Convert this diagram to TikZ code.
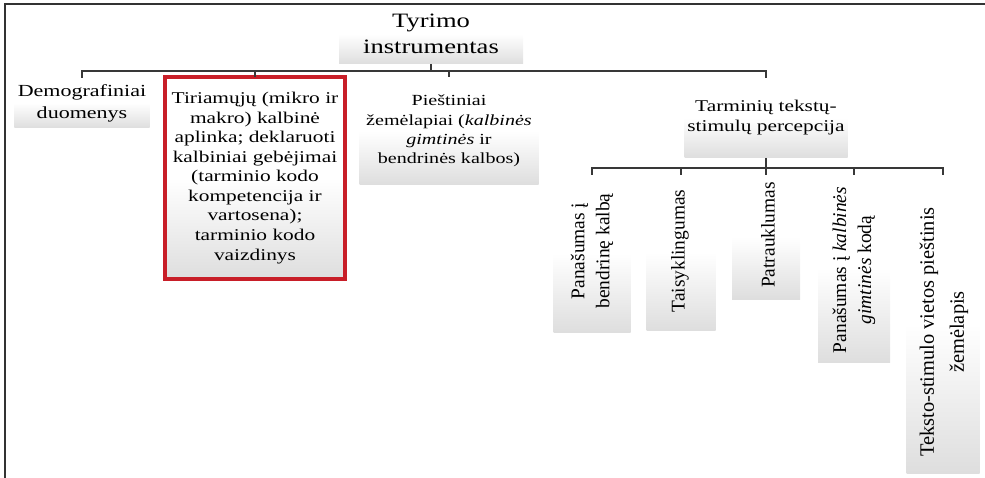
\documentclass[tikz,border=0pt]{standalone}
\usepackage{fontspec}
\setmainfont{Liberation Serif}
\newfontfamily\wserif{Liberation Serif}[FakeStretch=1.3]
\definecolor{boxred}{RGB}{200,30,40}
\begin{document}
\begin{tikzpicture}[x=1bp,y=-1bp,
  box/.style={shade, top color=white, bottom color=black!13, middle color=white,
              inner sep=0pt, outer sep=0pt, align=center},
  conn/.style={draw=black!78, line width=1.4bp},
  vtext/.style={rotate=90, align=center, inner sep=0pt,
                font=\fontsize{19.5}{25}\selectfont}]
\useasboundingbox (0,0) rectangle (985,478);
% level 0
\node[box, minimum width=184bp, minimum height=60bp,
      font=\wserif\fontsize{20.5}{25.5}\selectfont] (root) at (431,34) {Tyrimo\\instrumentas};
% frame
\draw[black!80, line width=1.3bp] (5,478) -- (5,4) -- (985,4);
% level 1
\node[box, minimum width=135bp, minimum height=50bp,
      font=\wserif\fontsize{17}{22}\selectfont] (n1) at (82,103) {Demografiniai\\duomenys};
\node[box, draw=boxred, line width=3.2bp, minimum width=180bp, minimum height=202bp,
      font=\wserif\fontsize{16.5}{19.6}\selectfont] (n2) at (255,178)
      {Tiriamųjų (mikro ir\\makro) kalbinė\\aplinka; deklaruoti\\kalbiniai gebėjimai\\(tarminio kodo\\kompetencija ir\\vartosena);\\tarminio kodo\\vaizdinys};
\node[box, minimum width=179bp, minimum height=107bp,
      font=\wserif\fontsize{15.5}{19.5}\selectfont] (n3) at (449,131)
      {Pieštiniai\\žemėlapiai (\textit{kalbinės}\\\textit{gimtinės} ir\\bendrinės kalbos)};
\node[box, minimum width=163bp, minimum height=80bp,
      font=\wserif\fontsize{16.5}{20}\selectfont] (n4) at (766,118)
      {Tarminių tekstų-\\stimulų percepcija};
% level 2 boxes
\node[box, minimum width=77bp, minimum height=157bp] (a) at (592,253.5) {};
\node[box, minimum width=69bp, minimum height=155bp] (b) at (681,252.5) {};
\node[box, minimum width=68bp, minimum height=124bp] (c) at (766,237) {};
\node[box, minimum width=72bp, minimum height=187bp] (d) at (854,268.5) {};
\node[box, minimum width=73bp, minimum height=298bp] (e) at (943,324) {};
% level 2 texts
\node[vtext] (ta) at (592,251) {Panašumas į\\bendrinę kalbą};
\node[vtext] (tb) at (680,251) {Taisyklingumas};
\node[vtext] (tc) at (768,235) {Patrauklumas};
\node[vtext] (td) at (854,270) {Panašumas į \textit{kalbinės}\\\textit{gimtinės} kodą};
\node[vtext, font=\fontsize{20.5}{30}\selectfont] (te) at (944,332) {Teksto-stimulo vietos pieštinis\\žemėlapis};
% connectors level 0-1
\draw[conn] (root.south) -- ++(0,7) coordinate (bus1);
\draw[conn] (n1.north) -- ++(0,-7) -| (n4.north);
\draw[conn] (n2.north |- bus1) -- (n2.north);
\draw[conn] (n3.north |- bus1) -- (n3.north);
% connectors level 1-2
\draw[conn] (n4.south) -- (c.north);
\draw[conn] (a.north) -- ++(0,-7) -| (e.north);
\draw[conn] (b.north) -- ++(0,-7);
\draw[conn] (d.north) -- ++(0,-7);
\end{tikzpicture}
\end{document}
